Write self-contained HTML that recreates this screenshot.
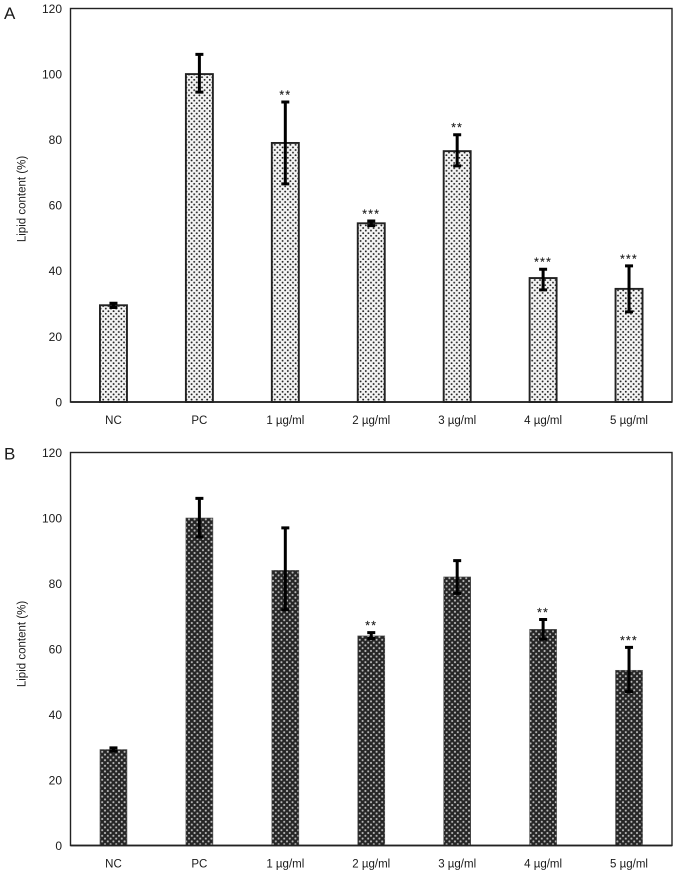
<!DOCTYPE html>
<html><head><meta charset="utf-8"><title>Lipid content</title>
<style>
html,body{margin:0;padding:0;background:#fff;width:677px;height:872px;overflow:hidden}
svg{display:block}
text{font-family:"Liberation Sans",sans-serif;fill:#1a1a1a}
</style></head>
<body>
<svg id="fig" xmlns="http://www.w3.org/2000/svg" width="677" height="872" viewBox="0 0 677 872">
<defs>
<pattern id="dots" width="5.2" height="5.2" patternUnits="userSpaceOnUse" patternTransform="translate(0.5 0.5)">
<rect width="5.2" height="5.2" fill="#f4f4f4"/>
<circle cx="1.3" cy="1.3" r="0.95" fill="#222"/>
<circle cx="3.9" cy="3.9" r="0.95" fill="#222"/>
</pattern>
<pattern id="cross" width="5.6" height="5.6" patternUnits="userSpaceOnUse">
<rect width="5.6" height="5.6" fill="#262626"/>
<circle cx="1.4" cy="1.4" r="1.05" fill="#b8b8b8"/>
<circle cx="4.2" cy="4.2" r="1.05" fill="#b8b8b8"/>
</pattern>
</defs>
<g id="panel-a"></g>
<g id="panel-b"></g>
</svg>
<script>
const categories = ["NC", "PC", "1 µg/ml", "2 µg/ml", "3 µg/ml", "4 µg/ml", "5 µg/ml"];
const yTicks = [0, 20, 40, 60, 80, 100, 120];
const valuesA = [29.5, 100, 79, 54.5, 76.5, 37.8, 34.5];
const errLowA = [28.8, 94.5, 66.5, 53.8, 72, 34.2, 27.5];
const errHighA = [30.1, 106, 91.5, 55.2, 81.5, 40.5, 41.5];
const sigA = ["", "", "**", "***", "**", "***", "***"];
const valuesB = [29.3, 100, 84, 64, 82, 66, 53.5];
const errLowB = [28.8, 94.2, 72, 63.2, 77, 63, 47];
const errHighB = [29.8, 106, 97, 65, 87, 69, 60.5];
const sigB = ["", "", "", "**", "", "**", "***"];

const NS = "http://www.w3.org/2000/svg";
function mk(parent, tag, attrs, text) {
  const e = document.createElementNS(NS, tag);
  for (const k in attrs) e.setAttribute(k, attrs[k]);
  if (text !== undefined) e.textContent = text;
  parent.appendChild(e);
  return e;
}
function drawPanel(root, cfg) {
  const left = 70.5, right = 672, top = cfg.top, bottom = cfg.bottom;
  const yMax = yTicks[yTicks.length - 1];
  const yScale = v => bottom - (v / yMax) * (bottom - top);
  const step = (right - left) / categories.length;
  const xScale = i => left + step * (i + 0.5);
  const barW = 27;

  const frame = mk(root, "rect", {x: left, y: top, width: right - left, height: bottom - top, fill: "#fff", stroke: "#222", "stroke-width": 1.4});
  
  

  const panelLabel = mk(root, "text", {x: 4, y: cfg.labelY, "font-size": 17}, cfg.label);
  
  

  const title = mk(root, "text", {transform: "translate(25.5 " + cfg.titleY + ") rotate(-90)", "text-anchor": "middle", "font-size": 11.5}, "Lipid content (%)");
  
  

  yTicks.forEach(t => {
    const lab = mk(root, "text", {x: 62, y: yScale(t) + 4.4, "text-anchor": "end", "font-size": 12}, String(t));
    
    
  });

  categories.forEach((c, i) => {
    const x = xScale(i);
    const bar = mk(root, "rect", {x: x - barW / 2, y: yScale(cfg.values[i]), width: barW, height: bottom - yScale(cfg.values[i]), fill: cfg.fill, stroke: cfg.barStroke, "stroke-width": cfg.barStrokeWidth});
    
    

    const hi = yScale(cfg.high[i]), lo = yScale(cfg.low[i]);
    const err = mk(root, "path", {d: "M" + x + " " + lo + "V" + hi + "M" + (x - 4) + " " + hi + "H" + (x + 4) + "M" + (x - 4) + " " + lo + "H" + (x + 4), stroke: "#000", "stroke-width": 3, fill: "none"});
    
    

    if (cfg.sig[i]) {
      const s = mk(root, "text", {x: x, y: hi - 3, "text-anchor": "middle", "font-size": 12, "letter-spacing": 1.3, stroke: "#333", "stroke-width": 0.2}, cfg.sig[i]);
      
      
    }

    const lab = mk(root, "text", {x: x, y: bottom + 22, "text-anchor": "middle", "font-size": 11.5}, c);
    
    
  });

  const axis = mk(root, "line", {x1: left, x2: right, y1: bottom, y2: bottom, stroke: "#222", "stroke-width": 1.7});
  
  
}
drawPanel(document.getElementById("panel-a"), {label: "A", labelY: 19, top: 8.5, bottom: 402, titleY: 199, values: valuesA, low: errLowA, high: errHighA, sig: sigA, fill: "url(#dots)", barStroke: "#222", barStrokeWidth: 1.9});
drawPanel(document.getElementById("panel-b"), {label: "B", labelY: 459.5, top: 452.5, bottom: 845.5, titleY: 644, values: valuesB, low: errLowB, high: errHighB, sig: sigB, fill: "url(#cross)", barStroke: "#555", barStrokeWidth: 0.6});
</script>
</body></html>
